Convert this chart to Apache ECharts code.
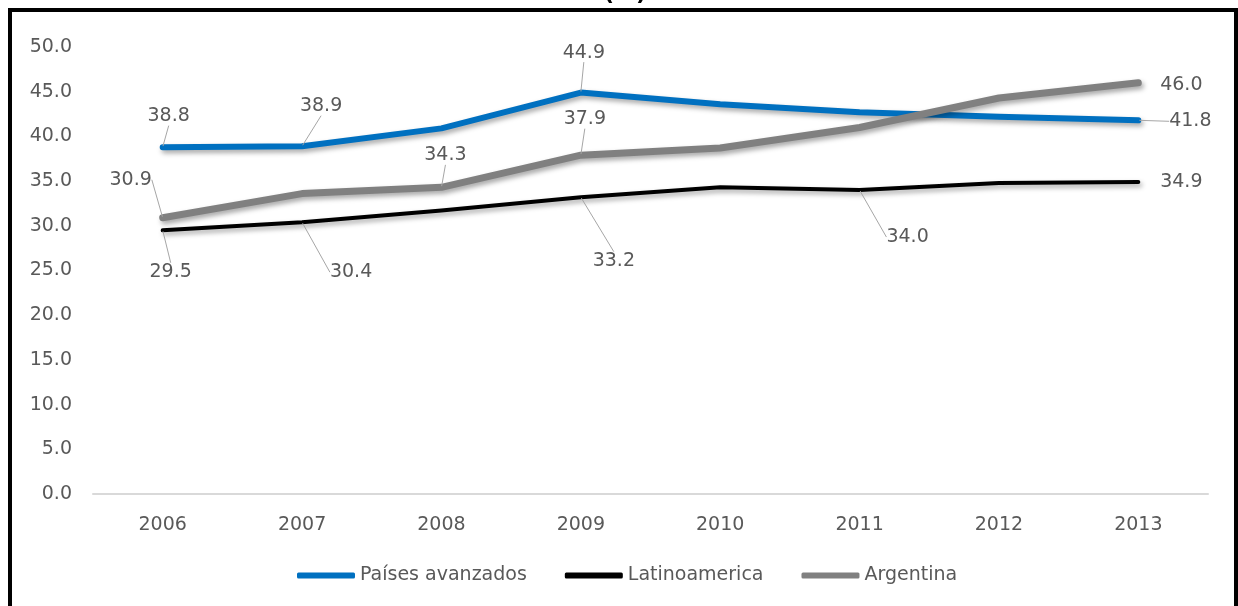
<!DOCTYPE html>
<html>
<head>
<meta charset="utf-8">
<script src="https://cdn.jsdelivr.net/npm/echarts@6/dist/echarts.min.js"></script>
<style>
  html, body { margin: 0; padding: 0; background: #fff; }
  #chart { width: 1238px; height: 606px; }
</style>
</head>
<body>
<div id="chart"></div>
<script>
var years = ['2006', '2007', '2008', '2009', '2010', '2011', '2012', '2013'];
var paisesAvanzados = [38.8, 38.9, 40.9, 44.9, 43.6, 42.7, 42.2, 41.8];
var latinoamerica = [29.5, 30.4, 31.7, 33.2, 34.3, 34.0, 34.8, 34.9];
var argentina = [30.9, 33.6, 34.3, 37.9, 38.7, 41.0, 44.3, 46.0];
var yTicks = [0, 5, 10, 15, 20, 25, 30, 35, 40, 45, 50];

// where each visible data label sits, relative to its point: [dx, dy, leader line]
var labelPlacement = {
    'Países avanzados': { 0: [6, -31, true], 1: [19, -40, true], 3: [3, -40, true], 7: [52, 1, true] },
    'Latinoamerica': { 0: [8, 42, true], 1: [49, 50, true], 3: [33, 64, true], 5: [48, 47, true], 7: [43, 0, false] },
    'Argentina': { 0: [-32, -38, true], 2: [4, -32, true], 3: [4, -36, true], 7: [43, 2, false] }
};

var FONT = 'DejaVu Sans';
var TEXT = '#595959';

function buildData(name, values) {
    var place = labelPlacement[name];
    return values.map(function (v, i) {
        var p = place[i];
        return {
            value: v,
            label: { show: !!p },
            labelLine: { show: !!(p && p[2]) }
        };
    });
}

function makeSeries(name, values, color, width) {
    return {
        name: name,
        type: 'line',
        data: buildData(name, values),
        symbol: 'circle',
        symbolSize: 2,
        showSymbol: true,
        itemStyle: { color: color },
        lineStyle: {
            color: color,
            width: width,
            cap: 'round',
            join: 'round',
            shadowColor: 'rgba(0,0,0,0.35)',
            shadowBlur: 5,
            shadowOffsetX: 2,
            shadowOffsetY: 3
        },
        label: {
            position: 'inside',
            color: TEXT,
            fontFamily: FONT,
            fontSize: 19,
            textBorderWidth: 0,
            formatter: function (p) { return p.value.toFixed(1); }
        },
        labelLine: {
            lineStyle: { color: '#a6a6a6', width: 1 }
        },
        labelLayout: function (params) {
            var p = labelPlacement[name][params.dataIndex];
            if (!p) return {};
            return { dx: p[0], dy: p[1] };
        },
        emphasis: { disabled: true }
    };
}

var chart = echarts.init(document.getElementById('chart'));

chart.setOption({
    animation: false,
    backgroundColor: '#fff',
    textStyle: { fontFamily: FONT },
    grid: { left: 93, right: 30, top: 47, bottom: 112 },
    xAxis: {
        type: 'category',
        data: years,
        boundaryGap: true,
        axisLine: { lineStyle: { color: '#d9d9d9', width: 2 } },
        axisTick: { show: false },
        axisLabel: { color: TEXT, fontSize: 19, fontFamily: FONT, margin: 22 }
    },
    yAxis: {
        type: 'value',
        min: yTicks[0],
        max: yTicks[yTicks.length - 1],
        interval: yTicks[1] - yTicks[0],
        axisLine: { show: false },
        axisTick: { show: false },
        splitLine: { show: false },
        axisLabel: {
            color: TEXT, fontSize: 19, fontFamily: FONT, margin: 21,
            formatter: function (v) { return v.toFixed(1); }
        }
    },
    legend: {
        left: 292,
        top: 561,
        icon: 'roundRect',
        itemWidth: 58,
        itemHeight: 6,
        itemGap: 38,
        textStyle: { color: TEXT, fontSize: 19, fontFamily: FONT }
    },
    series: [
        makeSeries('Países avanzados', paisesAvanzados, '#0070c0', 6),
        makeSeries('Latinoamerica', latinoamerica, '#000000', 4),
        makeSeries('Argentina', argentina, '#808080', 7)
    ],
    graphic: [
        {
            type: 'text',
            x: 625,
            y: 5,
            style: {
                text: '(%)',
                font: 'bold 22px "DejaVu Sans"',
                fill: '#000',
                textAlign: 'center',
                textVerticalAlign: 'bottom'
            }
        },
        {
            type: 'rect',
            shape: { x: 10, y: 10, width: 1226, height: 700 },
            style: { fill: 'none', stroke: '#000', lineWidth: 4 },
            z: 100
        }
    ]
});
</script>
</body>
</html>
